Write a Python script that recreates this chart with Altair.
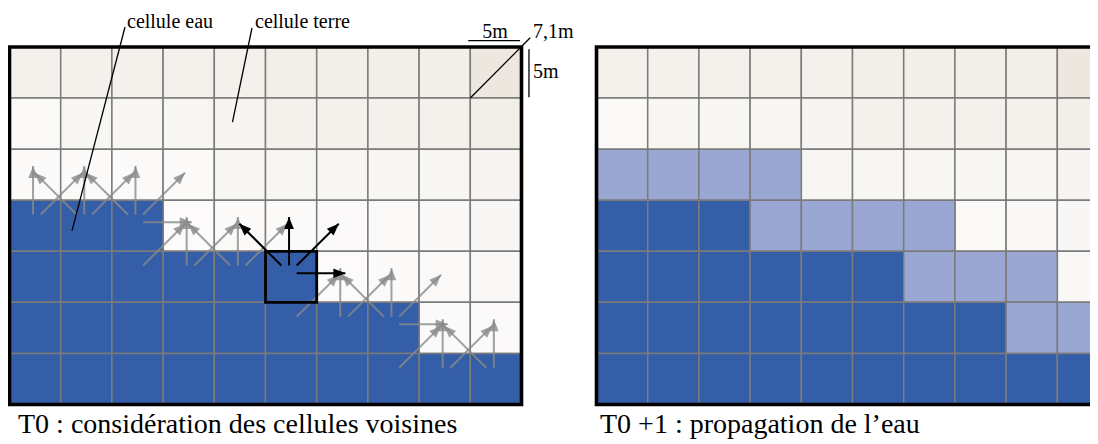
import altair as alt
import pandas as pd

# ---------------- data ----------------
N_COLS = 10
N_ROWS = 7

# T = terre, E = eau, N = eau nouvellement propagée
etat_t0 = [
    "TTTTTTTTTT",
    "TTTTTTTTTT",
    "TTTTTTTTTT",
    "EEETTTTTTT",
    "EEEEEETTTT",
    "EEEEEEEETT",
    "EEEEEEEEEE",
]
etat_t1 = [
    "TTTTTTTTTT",
    "TTTTTTTTTT",
    "NNNNTTTTTT",
    "EEENNNNTTT",
    "EEEEEENNNT",
    "EEEEEEEENN",
    "EEEEEEEEEE",
]
# relative elevation of land cells (shade of the terrain)
altitude = [
    [5, 5, 5, 5, 5, 6, 6, 6, 6, 9],
    [1, 2.5, 2.5, 2.5, 3, 5, 5, 5, 5, 6],
    [0.5, 0.5, 0.5, 0.5, 2.5, 2.5, 2.5, 2.5, 2.5, 3],
    [0, 0, 0, 0.3, 0.5, 0.5, 0.8, 1, 1.2, 2],
    [0, 0, 0, 0, 0, 0, 0.3, 0.6, 1, 1.5],
    [0, 0, 0, 0, 0, 0, 0, 0, 0.4, 0.8],
    [0, 0, 0, 0, 0, 0, 0, 0, 0, 0],
]
# flow arrows of the T0 panel: (row, col, directions)
fleches = [
    (3, 0, "U UR"),
    (3, 1, "UL U UR"),
    (3, 2, "UL U UR R"),
    (4, 2, "UR"),
    (4, 3, "U UR"),
    (4, 4, "UL U UR"),
    (5, 5, "UR"),
    (5, 6, "U UR"),
    (5, 7, "UL U UR R"),
    (6, 7, "UR"),
    (6, 8, "U UR"),
    (6, 9, "UL U"),
]
cellule_active = (4, 5, "UL U UR R")

legendes = ["cellule eau", "cellule terre", "5m", "7,1m", "5m"]
titres = ["T0 : considération des cellules voisines", "T0 +1  : propagation de l\u2019eau"]

# ---------------- layout ----------------
W, H = 1082, 436
CELL_W, CELL_H = 51.2, 51.07
OX, OY = 1.5, 39.0
OFFSET_T1 = 11.465
FONT = "Liberation Serif"

xs = alt.Scale(domain=[(0 - OX) / CELL_W, (W - OX) / CELL_W], range=[0, W], nice=False, zero=False)
ys = alt.Scale(domain=[(0 - OY) / CELL_H, (H - OY) / CELL_H], range=[0, H], nice=False, zero=False)

def X(f):
    return alt.X(f, type="quantitative", scale=xs, axis=None)

def Y(f):
    return alt.Y(f, type="quantitative", scale=ys, axis=None)

# cells
rows = []
for panel, grid, off in (("T0", etat_t0, 0.0), ("T0+1", etat_t1, OFFSET_T1)):
    for r in range(N_ROWS):
        for c in range(N_COLS):
            rows.append(dict(panel=panel, x=c + off, x2=c + off + 1, y=r, y2=r + 1,
                             etat=grid[r][c], alt=altitude[r][c]))
cells = pd.DataFrame(rows)
land = cells[cells["etat"] == "T"]
water = cells[cells["etat"] != "T"]

GRID = "#7b7b7b"
land_layer = alt.Chart(land).mark_rect(stroke=GRID, strokeWidth=1.5).encode(
    x=X("x"), x2="x2", y=Y("y"), y2="y2",
    color=alt.Color("alt:Q", scale=alt.Scale(domain=[0, 10], range=["#fcfbfb", "#ece5dc"],
                                             interpolate="rgb"), legend=None),
)
water_layer = alt.Chart(water).mark_rect(stroke=GRID, strokeWidth=1.5).encode(
    x=X("x"), x2="x2", y=Y("y"), y2="y2",
    color=alt.Color("etat:N", scale=alt.Scale(domain=["E", "N"], range=["#345ea8", "#9ba7d3"]), legend=None),
)

# outer borders
borders = pd.DataFrame([
    dict(x=0, x2=N_COLS, y=0, y2=N_ROWS),
    dict(x=OFFSET_T1, x2=OFFSET_T1 + N_COLS, y=0, y2=N_ROWS),
])
border_layer = alt.Chart(borders).mark_rect(filled=False, stroke="black", strokeWidth=3.6).encode(
    x=X("x"), x2="x2", y=Y("y"), y2="y2")

ar, ac, _ = cellule_active
active = pd.DataFrame([dict(x=ac, x2=ac + 1, y=ar, y2=ar + 1)])
active_layer = alt.Chart(active).mark_rect(filled=False, stroke="black", strokeWidth=2.8).encode(
    x=X("x"), x2="x2", y=Y("y"), y2="y2")

# arrows
VEC = {"U": (0, -1), "UL": (-1, -1), "UR": (1, -1), "R": (1, 0)}
ANG = {"U": 0, "UR": 45, "R": 90, "UL": 315}
START, END_ORTHO, END_DIAG = 0.15, 1.1, 0.97
SHIFT_X, SHIFT_Y = -0.04, -0.07

def arrow_rows(r, c, dirs, kind):
    out = []
    cx, cy = c + 0.5 + SHIFT_X, r + 0.5 + SHIFT_Y
    for d in dirs.split():
        vx, vy = VEC[d]
        k = END_DIAG if (vx != 0 and vy != 0) else END_ORTHO
        out.append(dict(x=cx + vx * START, y=cy + vy * START, x2=cx + vx * k, y2=cy + vy * k,
                        angle=ANG[d], kind=kind))
    return out

arr = []
for r, c, dirs in fleches:
    arr += arrow_rows(r, c, dirs, "gris")
arr += arrow_rows(*cellule_active, "noir")
arrows = pd.DataFrame(arr)
gray = arrows[arrows["kind"] == "gris"]
black = arrows[arrows["kind"] == "noir"]

HEAD = "M0,0L-0.8,2L0.8,2Z"

def arrow_layers(df, color, opacity):
    shaft = alt.Chart(df).mark_rule(color=color, strokeWidth=2, opacity=opacity).encode(
        x=X("x"), y=Y("y"), x2="x2", y2="y2")
    head = alt.Chart(df).mark_point(shape=HEAD, filled=True, size=144, color=color,
                                     opacity=opacity, strokeWidth=0).encode(
        x=X("x2"), y=Y("y2"), angle=alt.Angle("angle:Q", scale=None))
    return [shaft, head]

# annotation lines
ann = pd.DataFrame([
    dict(x=2.256, y=-0.392, x2=1.22, y2=3.60),
    dict(x=4.736, y=-0.372, x2=4.355, y2=1.469),
    dict(x=9.0, y=1.0, x2=10.17, y2=-0.18),
    dict(x=8.96, y=-0.123, x2=9.97, y2=-0.123),
    dict(x=10.146, y=0.045, x2=10.146, y2=0.985),
])
ann_layer = alt.Chart(ann).mark_rule(color="black", strokeWidth=1.3).encode(
    x=X("x"), y=Y("y"), x2="x2", y2="y2")

labels = pd.DataFrame(dict(
    text=legendes,
    x=[2.295, 4.795, 9.482, 10.225, 10.225],
    y=[-0.372, -0.372, -0.176, -0.176, 0.607],
    anchor=["left", "left", "center", "left", "left"],
))
lab_left = alt.Chart(labels[labels["anchor"] == "left"]).mark_text(
    font=FONT, fontSize=20, align="left", baseline="alphabetic", color="black").encode(
    x=X("x"), y=Y("y"), text="text:N")
lab_center = alt.Chart(labels[labels["anchor"] == "center"]).mark_text(
    font=FONT, fontSize=20, align="center", baseline="alphabetic", color="black").encode(
    x=X("x"), y=Y("y"), text="text:N")

caps = pd.DataFrame(dict(text=titres, x=[0.166, 11.533], y=[7.56, 7.56]))
cap_layer = alt.Chart(caps).mark_text(
    font=FONT, fontSize=28, align="left", baseline="alphabetic", color="black").encode(
    x=X("x"), y=Y("y"), text="text:N")

layers = [land_layer, water_layer]
layers += arrow_layers(gray, "#8a8a8a", 0.8)
layers += [border_layer, active_layer]
layers += arrow_layers(black, "black", 1.0)
layers += [ann_layer, lab_left, lab_center, cap_layer]

chart = alt.layer(*layers).resolve_scale(color="independent").properties(
    width=W, height=H, padding=0, autosize=alt.AutoSizeParams(type="none"),
    background="white",
).configure_view(stroke=None)

chart.save("out.html", embed_options={"renderer": "svg", "actions": False})
